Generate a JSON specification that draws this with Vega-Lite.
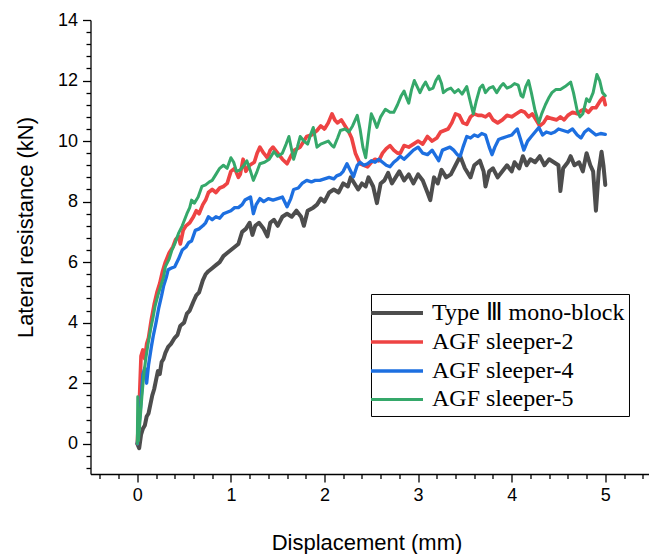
{
  "$schema": "https://vega.github.io/schema/vega-lite/v6.json",
  "width": 561.6,
  "height": 454,
  "autosize": "none",
  "padding": {"left": 90.5, "top": 20, "right": 0, "bottom": 80},
  "background": "white",
  "config": {"view": {"stroke": null}, "font": "Liberation Sans"},
  "data": {"values": [
{"s":"Type Ⅲ mono-block","x":0,"y":0},{"s":"Type Ⅲ mono-block","x":0.02,"y":-0.15},{"s":"Type Ⅲ mono-block","x":0.04,"y":0.3},{"s":"Type Ⅲ mono-block","x":0.06,"y":0.5},{"s":"Type Ⅲ mono-block","x":0.08,"y":0.6},{"s":"Type Ⅲ mono-block","x":0.1,"y":0.9},{"s":"Type Ⅲ mono-block","x":0.12,"y":1.0},{"s":"Type Ⅲ mono-block","x":0.14,"y":1.3},{"s":"Type Ⅲ mono-block","x":0.16,"y":1.6},{"s":"Type Ⅲ mono-block","x":0.18,"y":1.8},{"s":"Type Ⅲ mono-block","x":0.2,"y":2.1},{"s":"Type Ⅲ mono-block","x":0.22,"y":2.4},{"s":"Type Ⅲ mono-block","x":0.24,"y":2.3},{"s":"Type Ⅲ mono-block","x":0.26,"y":2.7},{"s":"Type Ⅲ mono-block","x":0.28,"y":2.8},{"s":"Type Ⅲ mono-block","x":0.3,"y":3.0},{"s":"Type Ⅲ mono-block","x":0.33,"y":3.2},{"s":"Type Ⅲ mono-block","x":0.36,"y":3.3},{"s":"Type Ⅲ mono-block","x":0.4,"y":3.5},{"s":"Type Ⅲ mono-block","x":0.43,"y":3.6},{"s":"Type Ⅲ mono-block","x":0.46,"y":3.9},{"s":"Type Ⅲ mono-block","x":0.5,"y":4.0},{"s":"Type Ⅲ mono-block","x":0.53,"y":4.3},{"s":"Type Ⅲ mono-block","x":0.56,"y":4.4},{"s":"Type Ⅲ mono-block","x":0.6,"y":4.7},{"s":"Type Ⅲ mono-block","x":0.63,"y":4.9},{"s":"Type Ⅲ mono-block","x":0.66,"y":5.0},{"s":"Type Ⅲ mono-block","x":0.7,"y":5.4},{"s":"Type Ⅲ mono-block","x":0.73,"y":5.6},{"s":"Type Ⅲ mono-block","x":0.76,"y":5.7},{"s":"Type Ⅲ mono-block","x":0.8,"y":5.8},{"s":"Type Ⅲ mono-block","x":0.84,"y":5.9},{"s":"Type Ⅲ mono-block","x":0.88,"y":6.0},{"s":"Type Ⅲ mono-block","x":0.92,"y":6.2},{"s":"Type Ⅲ mono-block","x":0.96,"y":6.3},{"s":"Type Ⅲ mono-block","x":1.0,"y":6.4},{"s":"Type Ⅲ mono-block","x":1.04,"y":6.5},{"s":"Type Ⅲ mono-block","x":1.08,"y":6.6},{"s":"Type Ⅲ mono-block","x":1.12,"y":7.0},{"s":"Type Ⅲ mono-block","x":1.16,"y":7.1},{"s":"Type Ⅲ mono-block","x":1.2,"y":7.3},{"s":"Type Ⅲ mono-block","x":1.23,"y":6.9},{"s":"Type Ⅲ mono-block","x":1.26,"y":7.2},{"s":"Type Ⅲ mono-block","x":1.3,"y":7.3},{"s":"Type Ⅲ mono-block","x":1.35,"y":7.1},{"s":"Type Ⅲ mono-block","x":1.39,"y":6.85},{"s":"Type Ⅲ mono-block","x":1.42,"y":7.3},{"s":"Type Ⅲ mono-block","x":1.46,"y":7.4},{"s":"Type Ⅲ mono-block","x":1.5,"y":7.2},{"s":"Type Ⅲ mono-block","x":1.55,"y":7.5},{"s":"Type Ⅲ mono-block","x":1.6,"y":7.6},{"s":"Type Ⅲ mono-block","x":1.65,"y":7.5},{"s":"Type Ⅲ mono-block","x":1.7,"y":7.7},{"s":"Type Ⅲ mono-block","x":1.75,"y":7.5},{"s":"Type Ⅲ mono-block","x":1.78,"y":7.2},{"s":"Type Ⅲ mono-block","x":1.82,"y":7.7},{"s":"Type Ⅲ mono-block","x":1.88,"y":7.8},{"s":"Type Ⅲ mono-block","x":1.92,"y":7.9},{"s":"Type Ⅲ mono-block","x":1.96,"y":8.1},{"s":"Type Ⅲ mono-block","x":2.0,"y":8.0},{"s":"Type Ⅲ mono-block","x":2.05,"y":8.3},{"s":"Type Ⅲ mono-block","x":2.1,"y":8.4},{"s":"Type Ⅲ mono-block","x":2.15,"y":8.3},{"s":"Type Ⅲ mono-block","x":2.2,"y":8.6},{"s":"Type Ⅲ mono-block","x":2.25,"y":8.5},{"s":"Type Ⅲ mono-block","x":2.28,"y":8.8},{"s":"Type Ⅲ mono-block","x":2.32,"y":8.6},{"s":"Type Ⅲ mono-block","x":2.36,"y":8.4},{"s":"Type Ⅲ mono-block","x":2.4,"y":8.6},{"s":"Type Ⅲ mono-block","x":2.44,"y":8.5},{"s":"Type Ⅲ mono-block","x":2.47,"y":8.8},{"s":"Type Ⅲ mono-block","x":2.52,"y":8.5},{"s":"Type Ⅲ mono-block","x":2.56,"y":7.95},{"s":"Type Ⅲ mono-block","x":2.6,"y":8.6},{"s":"Type Ⅲ mono-block","x":2.64,"y":8.7},{"s":"Type Ⅲ mono-block","x":2.68,"y":8.95},{"s":"Type Ⅲ mono-block","x":2.72,"y":8.6},{"s":"Type Ⅲ mono-block","x":2.76,"y":8.8},{"s":"Type Ⅲ mono-block","x":2.8,"y":9.0},{"s":"Type Ⅲ mono-block","x":2.85,"y":8.7},{"s":"Type Ⅲ mono-block","x":2.9,"y":8.9},{"s":"Type Ⅲ mono-block","x":2.95,"y":8.6},{"s":"Type Ⅲ mono-block","x":3.0,"y":8.9},{"s":"Type Ⅲ mono-block","x":3.05,"y":8.7},{"s":"Type Ⅲ mono-block","x":3.1,"y":8.3},{"s":"Type Ⅲ mono-block","x":3.13,"y":8.05},{"s":"Type Ⅲ mono-block","x":3.17,"y":8.8},{"s":"Type Ⅲ mono-block","x":3.21,"y":8.6},{"s":"Type Ⅲ mono-block","x":3.25,"y":9.05},{"s":"Type Ⅲ mono-block","x":3.3,"y":8.8},{"s":"Type Ⅲ mono-block","x":3.35,"y":8.9},{"s":"Type Ⅲ mono-block","x":3.4,"y":9.2},{"s":"Type Ⅲ mono-block","x":3.45,"y":9.5},{"s":"Type Ⅲ mono-block","x":3.5,"y":9.1},{"s":"Type Ⅲ mono-block","x":3.56,"y":8.8},{"s":"Type Ⅲ mono-block","x":3.6,"y":9.2},{"s":"Type Ⅲ mono-block","x":3.66,"y":9.35},{"s":"Type Ⅲ mono-block","x":3.7,"y":9.0},{"s":"Type Ⅲ mono-block","x":3.72,"y":8.5},{"s":"Type Ⅲ mono-block","x":3.76,"y":9.0},{"s":"Type Ⅲ mono-block","x":3.8,"y":9.1},{"s":"Type Ⅲ mono-block","x":3.85,"y":8.8},{"s":"Type Ⅲ mono-block","x":3.9,"y":9.0},{"s":"Type Ⅲ mono-block","x":3.95,"y":9.2},{"s":"Type Ⅲ mono-block","x":4.0,"y":9.0},{"s":"Type Ⅲ mono-block","x":4.03,"y":9.3},{"s":"Type Ⅲ mono-block","x":4.08,"y":9.1},{"s":"Type Ⅲ mono-block","x":4.12,"y":9.5},{"s":"Type Ⅲ mono-block","x":4.16,"y":9.2},{"s":"Type Ⅲ mono-block","x":4.2,"y":9.4},{"s":"Type Ⅲ mono-block","x":4.25,"y":9.3},{"s":"Type Ⅲ mono-block","x":4.3,"y":9.5},{"s":"Type Ⅲ mono-block","x":4.35,"y":9.2},{"s":"Type Ⅲ mono-block","x":4.4,"y":9.4},{"s":"Type Ⅲ mono-block","x":4.45,"y":9.3},{"s":"Type Ⅲ mono-block","x":4.5,"y":9.2},{"s":"Type Ⅲ mono-block","x":4.52,"y":8.35},{"s":"Type Ⅲ mono-block","x":4.55,"y":9.1},{"s":"Type Ⅲ mono-block","x":4.6,"y":9.3},{"s":"Type Ⅲ mono-block","x":4.63,"y":9.5},{"s":"Type Ⅲ mono-block","x":4.67,"y":9.2},{"s":"Type Ⅲ mono-block","x":4.72,"y":9.3},{"s":"Type Ⅲ mono-block","x":4.76,"y":9.0},{"s":"Type Ⅲ mono-block","x":4.8,"y":9.6},{"s":"Type Ⅲ mono-block","x":4.84,"y":9.2},{"s":"Type Ⅲ mono-block","x":4.87,"y":9.0},{"s":"Type Ⅲ mono-block","x":4.9,"y":7.7},{"s":"Type Ⅲ mono-block","x":4.93,"y":9.0},{"s":"Type Ⅲ mono-block","x":4.96,"y":9.65},{"s":"Type Ⅲ mono-block","x":4.98,"y":9.2},{"s":"Type Ⅲ mono-block","x":5.0,"y":8.55},
{"s":"AGF sleeper-2","x":0.0,"y":0.0},{"s":"AGF sleeper-2","x":0.02,"y":1.2},{"s":"AGF sleeper-2","x":0.04,"y":2.9},{"s":"AGF sleeper-2","x":0.06,"y":3.1},{"s":"AGF sleeper-2","x":0.08,"y":2.8},{"s":"AGF sleeper-2","x":0.1,"y":3.3},{"s":"AGF sleeper-2","x":0.12,"y":3.5},{"s":"AGF sleeper-2","x":0.15,"y":4.1},{"s":"AGF sleeper-2","x":0.18,"y":4.6},{"s":"AGF sleeper-2","x":0.21,"y":5.0},{"s":"AGF sleeper-2","x":0.24,"y":5.3},{"s":"AGF sleeper-2","x":0.27,"y":5.7},{"s":"AGF sleeper-2","x":0.3,"y":6.0},{"s":"AGF sleeper-2","x":0.34,"y":6.3},{"s":"AGF sleeper-2","x":0.38,"y":6.5},{"s":"AGF sleeper-2","x":0.41,"y":6.75},{"s":"AGF sleeper-2","x":0.44,"y":6.85},{"s":"AGF sleeper-2","x":0.46,"y":6.6},{"s":"AGF sleeper-2","x":0.49,"y":7.05},{"s":"AGF sleeper-2","x":0.52,"y":7.2},{"s":"AGF sleeper-2","x":0.56,"y":7.3},{"s":"AGF sleeper-2","x":0.6,"y":7.5},{"s":"AGF sleeper-2","x":0.63,"y":7.7},{"s":"AGF sleeper-2","x":0.66,"y":7.6},{"s":"AGF sleeper-2","x":0.7,"y":7.9},{"s":"AGF sleeper-2","x":0.73,"y":8.05},{"s":"AGF sleeper-2","x":0.76,"y":8.3},{"s":"AGF sleeper-2","x":0.8,"y":8.4},{"s":"AGF sleeper-2","x":0.84,"y":8.3},{"s":"AGF sleeper-2","x":0.88,"y":8.45},{"s":"AGF sleeper-2","x":0.92,"y":8.5},{"s":"AGF sleeper-2","x":0.96,"y":8.6},{"s":"AGF sleeper-2","x":1.0,"y":9.0},{"s":"AGF sleeper-2","x":1.04,"y":9.1},{"s":"AGF sleeper-2","x":1.08,"y":8.8},{"s":"AGF sleeper-2","x":1.1,"y":8.9},{"s":"AGF sleeper-2","x":1.13,"y":9.4},{"s":"AGF sleeper-2","x":1.16,"y":9.0},{"s":"AGF sleeper-2","x":1.2,"y":9.2},{"s":"AGF sleeper-2","x":1.25,"y":9.3},{"s":"AGF sleeper-2","x":1.28,"y":9.6},{"s":"AGF sleeper-2","x":1.31,"y":9.8},{"s":"AGF sleeper-2","x":1.35,"y":9.6},{"s":"AGF sleeper-2","x":1.39,"y":9.45},{"s":"AGF sleeper-2","x":1.42,"y":9.7},{"s":"AGF sleeper-2","x":1.45,"y":9.8},{"s":"AGF sleeper-2","x":1.5,"y":9.6},{"s":"AGF sleeper-2","x":1.55,"y":9.4},{"s":"AGF sleeper-2","x":1.6,"y":9.25},{"s":"AGF sleeper-2","x":1.64,"y":9.5},{"s":"AGF sleeper-2","x":1.68,"y":9.7},{"s":"AGF sleeper-2","x":1.74,"y":9.8},{"s":"AGF sleeper-2","x":1.78,"y":10.0},{"s":"AGF sleeper-2","x":1.81,"y":10.15},{"s":"AGF sleeper-2","x":1.86,"y":10.2},{"s":"AGF sleeper-2","x":1.92,"y":10.35},{"s":"AGF sleeper-2","x":1.96,"y":10.5},{"s":"AGF sleeper-2","x":2.0,"y":10.4},{"s":"AGF sleeper-2","x":2.04,"y":10.6},{"s":"AGF sleeper-2","x":2.08,"y":10.9},{"s":"AGF sleeper-2","x":2.11,"y":10.7},{"s":"AGF sleeper-2","x":2.14,"y":10.6},{"s":"AGF sleeper-2","x":2.18,"y":10.7},{"s":"AGF sleeper-2","x":2.22,"y":10.5},{"s":"AGF sleeper-2","x":2.26,"y":10.3},{"s":"AGF sleeper-2","x":2.29,"y":10.1},{"s":"AGF sleeper-2","x":2.33,"y":9.6},{"s":"AGF sleeper-2","x":2.38,"y":9.25},{"s":"AGF sleeper-2","x":2.42,"y":9.2},{"s":"AGF sleeper-2","x":2.46,"y":9.15},{"s":"AGF sleeper-2","x":2.5,"y":9.3},{"s":"AGF sleeper-2","x":2.54,"y":9.4},{"s":"AGF sleeper-2","x":2.58,"y":9.35},{"s":"AGF sleeper-2","x":2.62,"y":9.6},{"s":"AGF sleeper-2","x":2.66,"y":9.75},{"s":"AGF sleeper-2","x":2.7,"y":9.85},{"s":"AGF sleeper-2","x":2.74,"y":9.7},{"s":"AGF sleeper-2","x":2.78,"y":9.6},{"s":"AGF sleeper-2","x":2.81,"y":9.6},{"s":"AGF sleeper-2","x":2.85,"y":9.85},{"s":"AGF sleeper-2","x":2.9,"y":9.8},{"s":"AGF sleeper-2","x":2.95,"y":9.9},{"s":"AGF sleeper-2","x":3.0,"y":10.0},{"s":"AGF sleeper-2","x":3.05,"y":9.9},{"s":"AGF sleeper-2","x":3.1,"y":10.15},{"s":"AGF sleeper-2","x":3.15,"y":10.0},{"s":"AGF sleeper-2","x":3.2,"y":10.1},{"s":"AGF sleeper-2","x":3.24,"y":10.3},{"s":"AGF sleeper-2","x":3.28,"y":10.35},{"s":"AGF sleeper-2","x":3.32,"y":10.4},{"s":"AGF sleeper-2","x":3.36,"y":10.6},{"s":"AGF sleeper-2","x":3.4,"y":10.9},{"s":"AGF sleeper-2","x":3.44,"y":10.85},{"s":"AGF sleeper-2","x":3.48,"y":10.6},{"s":"AGF sleeper-2","x":3.52,"y":10.55},{"s":"AGF sleeper-2","x":3.56,"y":10.8},{"s":"AGF sleeper-2","x":3.6,"y":10.9},{"s":"AGF sleeper-2","x":3.64,"y":10.85},{"s":"AGF sleeper-2","x":3.68,"y":10.85},{"s":"AGF sleeper-2","x":3.72,"y":10.8},{"s":"AGF sleeper-2","x":3.76,"y":10.9},{"s":"AGF sleeper-2","x":3.8,"y":10.7},{"s":"AGF sleeper-2","x":3.85,"y":10.6},{"s":"AGF sleeper-2","x":3.9,"y":10.7},{"s":"AGF sleeper-2","x":3.95,"y":10.85},{"s":"AGF sleeper-2","x":4.0,"y":10.8},{"s":"AGF sleeper-2","x":4.05,"y":10.9},{"s":"AGF sleeper-2","x":4.1,"y":11.0},{"s":"AGF sleeper-2","x":4.14,"y":10.95},{"s":"AGF sleeper-2","x":4.18,"y":10.8},{"s":"AGF sleeper-2","x":4.22,"y":10.9},{"s":"AGF sleeper-2","x":4.26,"y":10.7},{"s":"AGF sleeper-2","x":4.3,"y":10.5},{"s":"AGF sleeper-2","x":4.34,"y":10.6},{"s":"AGF sleeper-2","x":4.38,"y":10.8},{"s":"AGF sleeper-2","x":4.42,"y":10.75},{"s":"AGF sleeper-2","x":4.48,"y":10.7},{"s":"AGF sleeper-2","x":4.52,"y":10.8},{"s":"AGF sleeper-2","x":4.56,"y":10.7},{"s":"AGF sleeper-2","x":4.6,"y":10.85},{"s":"AGF sleeper-2","x":4.65,"y":10.95},{"s":"AGF sleeper-2","x":4.7,"y":10.9},{"s":"AGF sleeper-2","x":4.74,"y":11.0},{"s":"AGF sleeper-2","x":4.78,"y":11.05},{"s":"AGF sleeper-2","x":4.82,"y":10.95},{"s":"AGF sleeper-2","x":4.86,"y":11.1},{"s":"AGF sleeper-2","x":4.9,"y":11.1},{"s":"AGF sleeper-2","x":4.95,"y":11.35},{"s":"AGF sleeper-2","x":4.98,"y":11.45},{"s":"AGF sleeper-2","x":5.0,"y":11.2},
{"s":"AGF sleeper-4","x":0.0,"y":0.0},{"s":"AGF sleeper-4","x":0.03,"y":1.0},{"s":"AGF sleeper-4","x":0.06,"y":2.3},{"s":"AGF sleeper-4","x":0.08,"y":2.5},{"s":"AGF sleeper-4","x":0.1,"y":2.0},{"s":"AGF sleeper-4","x":0.12,"y":2.6},{"s":"AGF sleeper-4","x":0.15,"y":3.2},{"s":"AGF sleeper-4","x":0.17,"y":3.55},{"s":"AGF sleeper-4","x":0.2,"y":4.0},{"s":"AGF sleeper-4","x":0.23,"y":4.5},{"s":"AGF sleeper-4","x":0.26,"y":4.9},{"s":"AGF sleeper-4","x":0.28,"y":5.2},{"s":"AGF sleeper-4","x":0.31,"y":5.5},{"s":"AGF sleeper-4","x":0.33,"y":5.75},{"s":"AGF sleeper-4","x":0.36,"y":5.8},{"s":"AGF sleeper-4","x":0.4,"y":5.85},{"s":"AGF sleeper-4","x":0.44,"y":6.1},{"s":"AGF sleeper-4","x":0.48,"y":6.4},{"s":"AGF sleeper-4","x":0.52,"y":6.5},{"s":"AGF sleeper-4","x":0.55,"y":6.65},{"s":"AGF sleeper-4","x":0.58,"y":6.7},{"s":"AGF sleeper-4","x":0.62,"y":7.05},{"s":"AGF sleeper-4","x":0.66,"y":7.1},{"s":"AGF sleeper-4","x":0.7,"y":7.2},{"s":"AGF sleeper-4","x":0.73,"y":7.3},{"s":"AGF sleeper-4","x":0.76,"y":7.5},{"s":"AGF sleeper-4","x":0.8,"y":7.4},{"s":"AGF sleeper-4","x":0.84,"y":7.5},{"s":"AGF sleeper-4","x":0.88,"y":7.45},{"s":"AGF sleeper-4","x":0.92,"y":7.6},{"s":"AGF sleeper-4","x":0.96,"y":7.65},{"s":"AGF sleeper-4","x":1.0,"y":7.7},{"s":"AGF sleeper-4","x":1.04,"y":7.8},{"s":"AGF sleeper-4","x":1.08,"y":7.8},{"s":"AGF sleeper-4","x":1.12,"y":7.9},{"s":"AGF sleeper-4","x":1.15,"y":8.05},{"s":"AGF sleeper-4","x":1.18,"y":8.1},{"s":"AGF sleeper-4","x":1.21,"y":8.15},{"s":"AGF sleeper-4","x":1.24,"y":7.6},{"s":"AGF sleeper-4","x":1.27,"y":7.9},{"s":"AGF sleeper-4","x":1.31,"y":8.1},{"s":"AGF sleeper-4","x":1.35,"y":8.0},{"s":"AGF sleeper-4","x":1.4,"y":8.1},{"s":"AGF sleeper-4","x":1.45,"y":8.05},{"s":"AGF sleeper-4","x":1.5,"y":8.1},{"s":"AGF sleeper-4","x":1.55,"y":8.15},{"s":"AGF sleeper-4","x":1.6,"y":7.83},{"s":"AGF sleeper-4","x":1.64,"y":8.1},{"s":"AGF sleeper-4","x":1.67,"y":8.4},{"s":"AGF sleeper-4","x":1.72,"y":8.45},{"s":"AGF sleeper-4","x":1.76,"y":8.6},{"s":"AGF sleeper-4","x":1.81,"y":8.7},{"s":"AGF sleeper-4","x":1.86,"y":8.65},{"s":"AGF sleeper-4","x":1.9,"y":8.7},{"s":"AGF sleeper-4","x":1.95,"y":8.7},{"s":"AGF sleeper-4","x":2.0,"y":8.75},{"s":"AGF sleeper-4","x":2.05,"y":8.8},{"s":"AGF sleeper-4","x":2.1,"y":8.75},{"s":"AGF sleeper-4","x":2.13,"y":8.85},{"s":"AGF sleeper-4","x":2.17,"y":8.9},{"s":"AGF sleeper-4","x":2.2,"y":9.0},{"s":"AGF sleeper-4","x":2.24,"y":9.25},{"s":"AGF sleeper-4","x":2.28,"y":9.0},{"s":"AGF sleeper-4","x":2.31,"y":8.82},{"s":"AGF sleeper-4","x":2.35,"y":9.2},{"s":"AGF sleeper-4","x":2.38,"y":9.3},{"s":"AGF sleeper-4","x":2.42,"y":9.2},{"s":"AGF sleeper-4","x":2.46,"y":9.25},{"s":"AGF sleeper-4","x":2.5,"y":9.35},{"s":"AGF sleeper-4","x":2.54,"y":9.3},{"s":"AGF sleeper-4","x":2.58,"y":9.4},{"s":"AGF sleeper-4","x":2.62,"y":9.3},{"s":"AGF sleeper-4","x":2.66,"y":9.2},{"s":"AGF sleeper-4","x":2.7,"y":9.15},{"s":"AGF sleeper-4","x":2.74,"y":9.3},{"s":"AGF sleeper-4","x":2.78,"y":9.4},{"s":"AGF sleeper-4","x":2.81,"y":9.5},{"s":"AGF sleeper-4","x":2.85,"y":9.4},{"s":"AGF sleeper-4","x":2.9,"y":9.55},{"s":"AGF sleeper-4","x":2.95,"y":9.7},{"s":"AGF sleeper-4","x":3.0,"y":9.8},{"s":"AGF sleeper-4","x":3.05,"y":9.6},{"s":"AGF sleeper-4","x":3.1,"y":9.55},{"s":"AGF sleeper-4","x":3.15,"y":9.7},{"s":"AGF sleeper-4","x":3.19,"y":9.5},{"s":"AGF sleeper-4","x":3.22,"y":9.35},{"s":"AGF sleeper-4","x":3.26,"y":9.7},{"s":"AGF sleeper-4","x":3.3,"y":9.75},{"s":"AGF sleeper-4","x":3.34,"y":9.8},{"s":"AGF sleeper-4","x":3.38,"y":9.7},{"s":"AGF sleeper-4","x":3.42,"y":9.55},{"s":"AGF sleeper-4","x":3.45,"y":9.5},{"s":"AGF sleeper-4","x":3.48,"y":9.8},{"s":"AGF sleeper-4","x":3.52,"y":10.15},{"s":"AGF sleeper-4","x":3.56,"y":10.1},{"s":"AGF sleeper-4","x":3.6,"y":10.2},{"s":"AGF sleeper-4","x":3.64,"y":10.15},{"s":"AGF sleeper-4","x":3.68,"y":10.25},{"s":"AGF sleeper-4","x":3.72,"y":10.2},{"s":"AGF sleeper-4","x":3.76,"y":9.8},{"s":"AGF sleeper-4","x":3.79,"y":9.55},{"s":"AGF sleeper-4","x":3.82,"y":9.8},{"s":"AGF sleeper-4","x":3.86,"y":10.05},{"s":"AGF sleeper-4","x":3.9,"y":10.1},{"s":"AGF sleeper-4","x":3.95,"y":10.15},{"s":"AGF sleeper-4","x":4.0,"y":10.2},{"s":"AGF sleeper-4","x":4.03,"y":10.3},{"s":"AGF sleeper-4","x":4.06,"y":10.4},{"s":"AGF sleeper-4","x":4.09,"y":10.1},{"s":"AGF sleeper-4","x":4.13,"y":9.7},{"s":"AGF sleeper-4","x":4.17,"y":10.0},{"s":"AGF sleeper-4","x":4.21,"y":10.15},{"s":"AGF sleeper-4","x":4.25,"y":10.3},{"s":"AGF sleeper-4","x":4.29,"y":10.45},{"s":"AGF sleeper-4","x":4.33,"y":10.2},{"s":"AGF sleeper-4","x":4.37,"y":10.3},{"s":"AGF sleeper-4","x":4.42,"y":10.25},{"s":"AGF sleeper-4","x":4.46,"y":10.3},{"s":"AGF sleeper-4","x":4.5,"y":10.4},{"s":"AGF sleeper-4","x":4.55,"y":10.35},{"s":"AGF sleeper-4","x":4.6,"y":10.3},{"s":"AGF sleeper-4","x":4.65,"y":10.4},{"s":"AGF sleeper-4","x":4.7,"y":10.2},{"s":"AGF sleeper-4","x":4.74,"y":10.1},{"s":"AGF sleeper-4","x":4.78,"y":10.3},{"s":"AGF sleeper-4","x":4.82,"y":10.4},{"s":"AGF sleeper-4","x":4.86,"y":10.3},{"s":"AGF sleeper-4","x":4.9,"y":10.2},{"s":"AGF sleeper-4","x":4.95,"y":10.25},{"s":"AGF sleeper-4","x":5.0,"y":10.22},
{"s":"AGF sleeper-5","x":0.0,"y":0.0},{"s":"AGF sleeper-5","x":0.005,"y":1.55},{"s":"AGF sleeper-5","x":0.012,"y":0.1},{"s":"AGF sleeper-5","x":0.03,"y":0.8},{"s":"AGF sleeper-5","x":0.05,"y":1.6},{"s":"AGF sleeper-5","x":0.07,"y":2.3},{"s":"AGF sleeper-5","x":0.09,"y":2.8},{"s":"AGF sleeper-5","x":0.11,"y":3.2},{"s":"AGF sleeper-5","x":0.14,"y":3.75},{"s":"AGF sleeper-5","x":0.17,"y":4.2},{"s":"AGF sleeper-5","x":0.19,"y":4.55},{"s":"AGF sleeper-5","x":0.22,"y":4.9},{"s":"AGF sleeper-5","x":0.25,"y":5.2},{"s":"AGF sleeper-5","x":0.28,"y":5.5},{"s":"AGF sleeper-5","x":0.3,"y":5.85},{"s":"AGF sleeper-5","x":0.34,"y":6.1},{"s":"AGF sleeper-5","x":0.37,"y":6.4},{"s":"AGF sleeper-5","x":0.4,"y":6.6},{"s":"AGF sleeper-5","x":0.44,"y":6.95},{"s":"AGF sleeper-5","x":0.48,"y":7.2},{"s":"AGF sleeper-5","x":0.53,"y":7.6},{"s":"AGF sleeper-5","x":0.56,"y":7.8},{"s":"AGF sleeper-5","x":0.58,"y":8.05},{"s":"AGF sleeper-5","x":0.61,"y":7.95},{"s":"AGF sleeper-5","x":0.65,"y":8.15},{"s":"AGF sleeper-5","x":0.69,"y":8.5},{"s":"AGF sleeper-5","x":0.73,"y":8.55},{"s":"AGF sleeper-5","x":0.77,"y":8.65},{"s":"AGF sleeper-5","x":0.8,"y":8.7},{"s":"AGF sleeper-5","x":0.84,"y":8.9},{"s":"AGF sleeper-5","x":0.88,"y":9.1},{"s":"AGF sleeper-5","x":0.92,"y":9.2},{"s":"AGF sleeper-5","x":0.96,"y":9.1},{"s":"AGF sleeper-5","x":1.0,"y":9.45},{"s":"AGF sleeper-5","x":1.03,"y":9.3},{"s":"AGF sleeper-5","x":1.06,"y":9.0},{"s":"AGF sleeper-5","x":1.1,"y":9.05},{"s":"AGF sleeper-5","x":1.14,"y":9.2},{"s":"AGF sleeper-5","x":1.17,"y":9.35},{"s":"AGF sleeper-5","x":1.21,"y":9.0},{"s":"AGF sleeper-5","x":1.24,"y":8.7},{"s":"AGF sleeper-5","x":1.28,"y":9.0},{"s":"AGF sleeper-5","x":1.31,"y":9.25},{"s":"AGF sleeper-5","x":1.36,"y":9.3},{"s":"AGF sleeper-5","x":1.41,"y":9.4},{"s":"AGF sleeper-5","x":1.46,"y":9.65},{"s":"AGF sleeper-5","x":1.5,"y":9.5},{"s":"AGF sleeper-5","x":1.55,"y":9.6},{"s":"AGF sleeper-5","x":1.59,"y":9.9},{"s":"AGF sleeper-5","x":1.62,"y":10.15},{"s":"AGF sleeper-5","x":1.65,"y":9.7},{"s":"AGF sleeper-5","x":1.67,"y":9.4},{"s":"AGF sleeper-5","x":1.71,"y":9.8},{"s":"AGF sleeper-5","x":1.74,"y":10.15},{"s":"AGF sleeper-5","x":1.78,"y":10.0},{"s":"AGF sleeper-5","x":1.82,"y":9.9},{"s":"AGF sleeper-5","x":1.85,"y":10.2},{"s":"AGF sleeper-5","x":1.88,"y":10.45},{"s":"AGF sleeper-5","x":1.92,"y":9.8},{"s":"AGF sleeper-5","x":1.96,"y":9.9},{"s":"AGF sleeper-5","x":2.0,"y":9.95},{"s":"AGF sleeper-5","x":2.04,"y":10.0},{"s":"AGF sleeper-5","x":2.08,"y":9.85},{"s":"AGF sleeper-5","x":2.1,"y":9.8},{"s":"AGF sleeper-5","x":2.14,"y":10.1},{"s":"AGF sleeper-5","x":2.17,"y":10.35},{"s":"AGF sleeper-5","x":2.22,"y":10.4},{"s":"AGF sleeper-5","x":2.26,"y":10.3},{"s":"AGF sleeper-5","x":2.3,"y":10.5},{"s":"AGF sleeper-5","x":2.35,"y":10.85},{"s":"AGF sleeper-5","x":2.38,"y":10.4},{"s":"AGF sleeper-5","x":2.41,"y":9.8},{"s":"AGF sleeper-5","x":2.44,"y":9.45},{"s":"AGF sleeper-5","x":2.47,"y":10.2},{"s":"AGF sleeper-5","x":2.5,"y":10.9},{"s":"AGF sleeper-5","x":2.53,"y":10.7},{"s":"AGF sleeper-5","x":2.56,"y":10.45},{"s":"AGF sleeper-5","x":2.6,"y":10.8},{"s":"AGF sleeper-5","x":2.65,"y":11.05},{"s":"AGF sleeper-5","x":2.7,"y":10.95},{"s":"AGF sleeper-5","x":2.74,"y":10.95},{"s":"AGF sleeper-5","x":2.78,"y":11.2},{"s":"AGF sleeper-5","x":2.82,"y":11.5},{"s":"AGF sleeper-5","x":2.85,"y":11.65},{"s":"AGF sleeper-5","x":2.88,"y":11.4},{"s":"AGF sleeper-5","x":2.9,"y":11.25},{"s":"AGF sleeper-5","x":2.93,"y":11.7},{"s":"AGF sleeper-5","x":2.96,"y":12.0},{"s":"AGF sleeper-5","x":2.99,"y":11.8},{"s":"AGF sleeper-5","x":3.02,"y":11.6},{"s":"AGF sleeper-5","x":3.05,"y":11.8},{"s":"AGF sleeper-5","x":3.08,"y":11.95},{"s":"AGF sleeper-5","x":3.12,"y":11.7},{"s":"AGF sleeper-5","x":3.16,"y":11.75},{"s":"AGF sleeper-5","x":3.19,"y":12.0},{"s":"AGF sleeper-5","x":3.22,"y":12.15},{"s":"AGF sleeper-5","x":3.25,"y":11.9},{"s":"AGF sleeper-5","x":3.27,"y":11.6},{"s":"AGF sleeper-5","x":3.31,"y":11.7},{"s":"AGF sleeper-5","x":3.35,"y":11.75},{"s":"AGF sleeper-5","x":3.39,"y":11.6},{"s":"AGF sleeper-5","x":3.43,"y":11.7},{"s":"AGF sleeper-5","x":3.47,"y":11.55},{"s":"AGF sleeper-5","x":3.5,"y":11.7},{"s":"AGF sleeper-5","x":3.52,"y":11.8},{"s":"AGF sleeper-5","x":3.55,"y":11.4},{"s":"AGF sleeper-5","x":3.59,"y":10.9},{"s":"AGF sleeper-5","x":3.62,"y":11.3},{"s":"AGF sleeper-5","x":3.66,"y":11.75},{"s":"AGF sleeper-5","x":3.69,"y":11.85},{"s":"AGF sleeper-5","x":3.72,"y":11.6},{"s":"AGF sleeper-5","x":3.76,"y":11.75},{"s":"AGF sleeper-5","x":3.8,"y":11.8},{"s":"AGF sleeper-5","x":3.84,"y":11.6},{"s":"AGF sleeper-5","x":3.88,"y":11.8},{"s":"AGF sleeper-5","x":3.91,"y":11.9},{"s":"AGF sleeper-5","x":3.95,"y":11.75},{"s":"AGF sleeper-5","x":3.99,"y":11.8},{"s":"AGF sleeper-5","x":4.03,"y":11.9},{"s":"AGF sleeper-5","x":4.07,"y":11.85},{"s":"AGF sleeper-5","x":4.1,"y":11.5},{"s":"AGF sleeper-5","x":4.12,"y":11.45},{"s":"AGF sleeper-5","x":4.15,"y":11.8},{"s":"AGF sleeper-5","x":4.18,"y":12.0},{"s":"AGF sleeper-5","x":4.21,"y":11.6},{"s":"AGF sleeper-5","x":4.25,"y":11.0},{"s":"AGF sleeper-5","x":4.29,"y":10.6},{"s":"AGF sleeper-5","x":4.32,"y":10.9},{"s":"AGF sleeper-5","x":4.36,"y":11.2},{"s":"AGF sleeper-5","x":4.4,"y":11.45},{"s":"AGF sleeper-5","x":4.43,"y":11.6},{"s":"AGF sleeper-5","x":4.47,"y":11.7},{"s":"AGF sleeper-5","x":4.52,"y":11.7},{"s":"AGF sleeper-5","x":4.57,"y":11.8},{"s":"AGF sleeper-5","x":4.63,"y":11.95},{"s":"AGF sleeper-5","x":4.66,"y":11.6},{"s":"AGF sleeper-5","x":4.7,"y":11.0},{"s":"AGF sleeper-5","x":4.73,"y":10.8},{"s":"AGF sleeper-5","x":4.76,"y":10.9},{"s":"AGF sleeper-5","x":4.8,"y":11.4},{"s":"AGF sleeper-5","x":4.83,"y":11.3},{"s":"AGF sleeper-5","x":4.87,"y":11.6},{"s":"AGF sleeper-5","x":4.91,"y":12.2},{"s":"AGF sleeper-5","x":4.94,"y":12.0},{"s":"AGF sleeper-5","x":4.97,"y":11.6},{"s":"AGF sleeper-5","x":5.0,"y":11.5}
  ]},
  "mark": {"type": "line", "strokeJoin": "round", "strokeCap": "round"},
  "encoding": {
    "x": {
      "field": "x", "type": "quantitative",
      "scale": {"domain": [-0.5, 5.5], "nice": false, "zero": false},
      "axis": {
        "values": [-0.4,-0.2,0,0.2,0.4,0.6,0.8,1,1.2,1.4,1.6,1.8,2,2.2,2.4,2.6,2.8,3,3.2,3.4,3.6,3.8,4,4.2,4.4,4.6,4.8,5,5.2,5.4],
        "labelExpr": "abs(datum.value - round(datum.value)) < 0.01 ? format(datum.value, 'd') : ''",
        "tickSize": {"condition": {"test": "abs(datum.value - round(datum.value)) < 0.01", "value": 8}, "value": 4.5},
        "grid": false, "domainColor": "black", "domainWidth": 1.3, "tickColor": "black", "tickWidth": 1.3,
        "labelFontSize": 18, "labelColor": "black", "labelPadding": 5, "labelFlush": false, "labelOverlap": false,
        "title": "Displacement (mm)", "titleFontSize": 22, "titleFontWeight": "normal", "titleColor": "black",
        "titleX": 276, "titleY": 76, "titleBaseline": "alphabetic", "titleAlign": "center"
      }
    },
    "y": {
      "field": "y", "type": "quantitative",
      "scale": {"domain": [-1, 14], "nice": false, "zero": false},
      "axis": {
        "values": [-0.8,-0.4,0,0.4,0.8,1.2,1.6,2,2.4,2.8,3.2,3.6,4,4.4,4.8,5.2,5.6,6,6.4,6.8,7.2,7.6,8,8.4,8.8,9.2,9.6,10,10.4,10.8,11.2,11.6,12,12.4,12.8,13.2,13.6,14],
        "labelExpr": "abs(datum.value / 2 - round(datum.value / 2)) < 0.01 ? format(datum.value, 'd') : ''",
        "tickSize": {"condition": {"test": "abs(datum.value / 2 - round(datum.value / 2)) < 0.01", "value": 8}, "value": 4.5},
        "grid": false, "domainColor": "black", "domainWidth": 1.3, "tickColor": "black", "tickWidth": 1.3,
        "labelFontSize": 18, "labelColor": "black", "labelPadding": 5, "labelFlush": false, "labelOverlap": false,
        "title": "Lateral resistance (kN)", "titleFontSize": 22, "titleFontWeight": "normal", "titleColor": "black",
        "titleX": -58, "titleY": 207, "titleBaseline": "alphabetic", "titleAlign": "center", "titleAngle": -90
      }
    },
    "color": {
      "field": "s", "type": "nominal",
      "scale": {"domain": ["Type Ⅲ mono-block", "AGF sleeper-2", "AGF sleeper-4", "AGF sleeper-5"], "range": ["#4d4d4d", "#ee4343", "#1d6fe0", "#35a86a"]},
      "legend": {
        "orient": "none", "legendX": 280.5, "legendY": 274, "title": null,
        "symbolType": "M-2,0H2", "symbolSize": 676, "symbolStrokeWidth": 3.5, "symbolOffset": 7,
        "labelFont": "Liberation Serif", "labelFontSize": 24, "labelColor": "black", "labelOffset": 20, "labelLimit": 400,
        "strokeColor": "black", "fillColor": "white", "padding": 4, "rowPadding": 2, "cornerRadius": 0
      }
    },
    "strokeWidth": {
      "field": "s", "type": "nominal",
      "scale": {"domain": ["Type Ⅲ mono-block", "AGF sleeper-2", "AGF sleeper-4", "AGF sleeper-5"], "range": [4, 3, 3, 3]},
      "legend": null
    }
  }
}
